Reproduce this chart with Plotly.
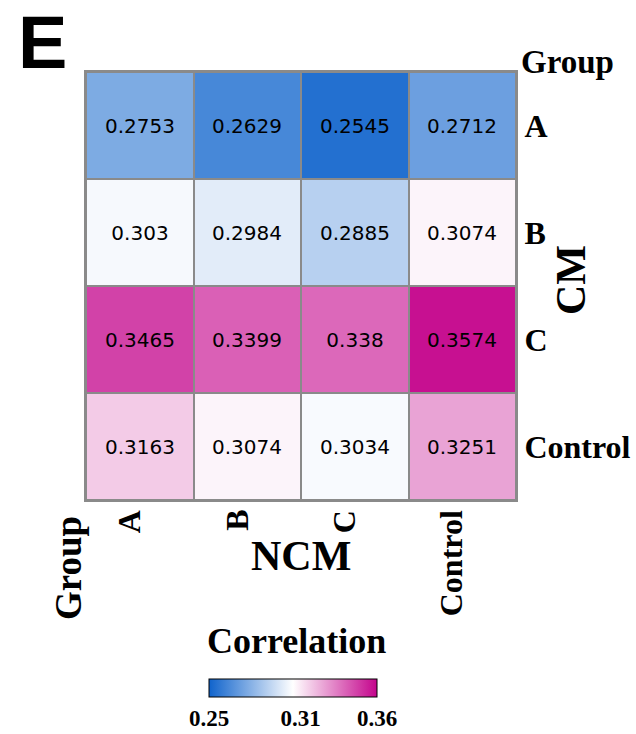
import plotly.graph_objects as go

ncm_groups = ["A", "B", "C", "Control"]
cm_groups = ["A", "B", "C", "Control"]
row_A = [0.2753, 0.2629, 0.2545, 0.2712]
row_B = [0.303, 0.2984, 0.2885, 0.3074]
row_C = [0.3465, 0.3399, 0.338, 0.3574]
row_Control = [0.3163, 0.3074, 0.3034, 0.3251]
cbar_ticks = [0.25, 0.31, 0.36]

z = [row_A, row_B, row_C, row_Control]
text = [[str(v) for v in r] for r in z]

W, H = 636, 734
L, R, T, B = 86, 120, 72, 234
pw, ph = W - L - R, H - T - B

def px(x):
    return (x - L) / pw

def py(y):
    return (H - B - y) / ph

serif = "Liberation Serif"
lab_size = 32

fig = go.Figure(go.Heatmap(
    z=z, x=ncm_groups, y=cm_groups, text=text, texttemplate="%{text}",
    textfont=dict(family="DejaVu Sans", size=20, color="black"),
    zmin=0.25, zmax=0.36,
    colorscale=[[0, "#0f63cc"], [0.5, "#ffffff"], [1, "#c4048c"]],
    xgap=2, ygap=2,
    colorbar=dict(
        orientation="h", len=188, lenmode="pixels", thickness=18,
        x=px(293), xanchor="center", y=py(701), yanchor="middle",
        tickvals=cbar_ticks, ticktext=[f"{v:.2f}" for v in cbar_ticks],
        ticks="", tickfont=dict(family=serif, size=23, color="black", weight="bold"),
        outlinecolor="black", outlinewidth=1,
    ),
))

annotations = [
    dict(text="E", x=px(42), y=py(42), xref="paper", yref="paper", showarrow=False,
         xanchor="center", yanchor="middle", borderpad=0,
         font=dict(family="Liberation Sans", size=74, color="black", weight="bold")),
    dict(text="Group", x=px(519), y=py(62), xref="paper", yref="paper", showarrow=False,
         xanchor="left", yanchor="middle",
         font=dict(family=serif, size=33, color="black", weight="bold")),
    dict(text="CM", x=px(571), y=py(280), xref="paper", yref="paper", showarrow=False,
         xanchor="center", yanchor="middle",
         textangle=-90, font=dict(family=serif, size=42, color="black", weight="bold")),
    dict(text="Group", x=px(68), y=py(568), xref="paper", yref="paper", showarrow=False,
         xanchor="center", yanchor="middle",
         textangle=-90, font=dict(family=serif, size=37, color="black", weight="bold")),
    dict(text="NCM", x=px(301), y=py(556), xref="paper", yref="paper", showarrow=False,
         xanchor="center", yanchor="middle",
         font=dict(family=serif, size=42, color="black", weight="bold")),
    dict(text="Correlation", x=px(296), y=py(641), xref="paper", yref="paper", showarrow=False,
         xanchor="center", yanchor="middle",
         font=dict(family=serif, size=36, color="black", weight="bold")),
]
for g in ncm_groups:
    annotations.append(dict(
        text=g, x=g, y=py(508), xref="x", yref="paper", showarrow=False,
        xanchor="center", yanchor="top", textangle=-90, xshift=-11,
        font=dict(family=serif, size=lab_size, color="black", weight="bold")))

fig.update_layout(
    width=W, height=H, margin=dict(l=L, r=R, t=T, b=B, autoexpand=False),
    paper_bgcolor="white", plot_bgcolor="#8a8a8a",
    xaxis=dict(side="bottom", showticklabels=False, ticks="", showgrid=False, zeroline=False,
               automargin=False,
               showline=True, mirror=True, linecolor="#8a8a8a", linewidth=2),
    yaxis=dict(side="right", autorange="reversed", ticks="", showgrid=False, zeroline=False,
               automargin=False,
               tickfont=dict(family=serif, size=lab_size, color="black", weight="bold"),
               showline=True, mirror=True, linecolor="#8a8a8a", linewidth=2),
    annotations=annotations,
)

fig.write_html("out.html")
